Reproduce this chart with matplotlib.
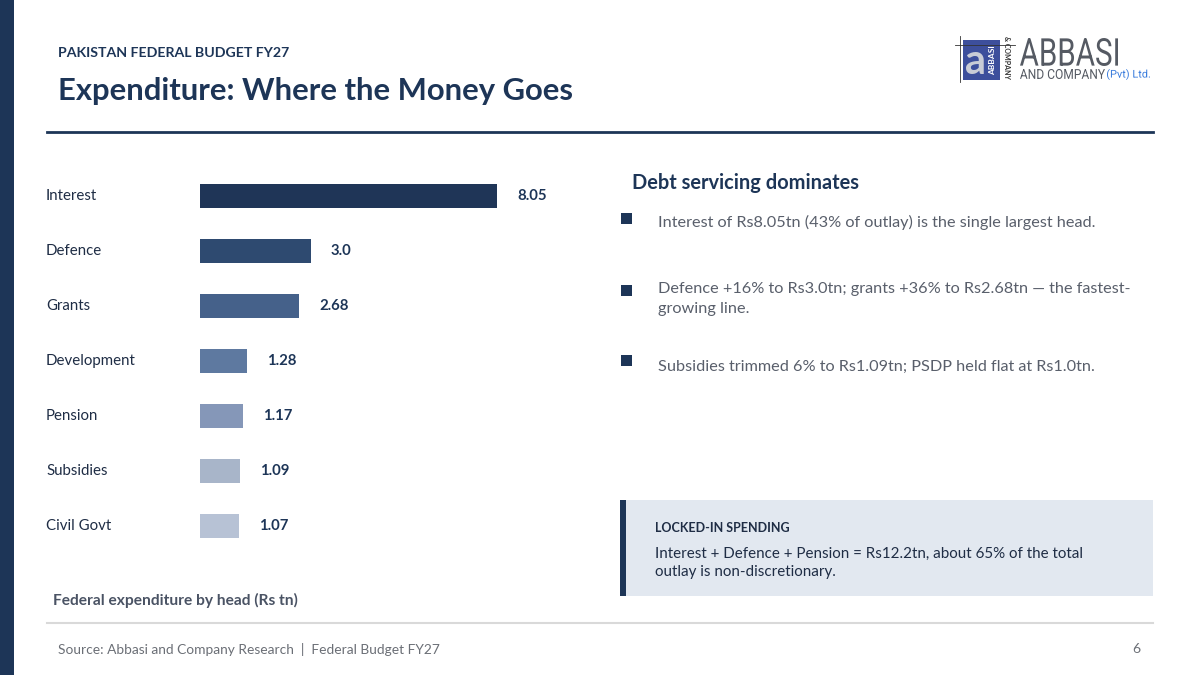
import matplotlib

matplotlib.use("Agg")
import matplotlib.pyplot as plt
from matplotlib.font_manager import FontProperties
from matplotlib.patches import PathPatch, Rectangle
from matplotlib.textpath import TextPath
from matplotlib.transforms import Affine2D, blended_transform_factory

plt.rcParams["font.family"] = ["Lato", "DejaVu Sans"]

# data
heads = ["Interest", "Defence", "Grants", "Development", "Pension", "Subsidies", "Civil Govt"]
values = [8.05, 3.0, 2.68, 1.28, 1.17, 1.09, 1.07]
value_labels = ["8.05", "3.0", "2.68", "1.28", "1.17", "1.09", "1.07"]
bar_colors = ["#1f3557", "#2e4a70", "#45618a", "#5e79a0", "#8597b8", "#a8b5c9", "#b7c2d5"]

bullets = [
    "Interest of Rs8.05tn (43% of outlay) is the single largest head.",
    "Defence +16% to Rs3.0tn; grants +36% to Rs2.68tn \u2014 the fastest-\ngrowing line.",
    "Subsidies trimmed 6% to Rs1.09tn; PSDP held flat at Rs1.0tn.",
]
bullet_y = [222, 299, 367]
marker_y = [218, 290, 360]

NAVY = "#1d3557"
W, H = 1200, 675


def fx(px):
    return px / W


def fy(py):
    return 1 - py / H


def fit_text(fig, s, x0, x1, ytop, ybot, color, family="Roboto", weight="normal"):
    # squeeze a text outline into a pixel box (used for the logo lettering)
    path = TextPath((0, 0), s, size=20, prop=FontProperties(family=family, weight=weight))
    bb = path.get_extents()
    sx = (x1 - x0) / bb.width
    sy = (ybot - ytop) / bb.height
    tr = Affine2D().translate(-bb.x0, -bb.y0).scale(sx, sy).translate(x0, H - ybot)
    fig.add_artist(PathPatch(path, transform=tr, facecolor=color, edgecolor="none"))


fig = plt.figure(figsize=(12, 6.75), dpi=100)
fig.patch.set_facecolor("white")

# left accent strip
fig.add_artist(Rectangle((0, 0), fx(14), 1, transform=fig.transFigure,
                         facecolor=NAVY, edgecolor="none"))

# header
fig.text(fx(58), fy(53), "PAKISTAN FEDERAL BUDGET FY27", fontsize=10.2,
         fontweight="bold", color=NAVY, va="center")
fig.text(fx(58), fy(91), "Expenditure: Where the Money Goes", fontsize=22.3,
         fontweight="bold", color=NAVY, va="center")
fig.add_artist(plt.Line2D([fx(47), fx(1153)], [fy(132), fy(132)],
                          transform=fig.transFigure, color=NAVY, lw=2))

# logo (approximate)
fig.add_artist(Rectangle((fx(963), fy(80)), fx(37), 40 / H, transform=fig.transFigure,
                         facecolor="#3d4f9c", edgecolor="none"))
fig.text(fx(975), fy(62), "a", fontsize=30, fontweight="bold", color="#c9ccd6",
         ha="center", va="center")
fig.text(fx(993), fy(60), "ABBASI", fontsize=6, fontweight="bold", color="white",
         rotation=90, ha="center", va="center")
fig.text(fx(1006), fy(58), "& COMPANY", fontsize=5, fontweight="bold", color="#333333",
         rotation=270, ha="center", va="center")
fig.add_artist(plt.Line2D([fx(955), fx(1015)], [fy(45), fy(45)],
                          transform=fig.transFigure, color="#333333", lw=0.6))
fig.add_artist(plt.Line2D([fx(960), fx(960)], [fy(36), fy(82)],
                          transform=fig.transFigure, color="#333333", lw=0.6))
fit_text(fig, "ABBASI", 1020, 1118, 38, 66, "#555a63")
fit_text(fig, "AND COMPANY", 1020, 1105, 69, 79, "#555a63")
fit_text(fig, "(Pvt) Ltd.", 1107, 1150, 69, 80, "#3b7ddd")

# bar chart
ax = fig.add_axes([fx(200), fy(553.5), fx(400), (553.5 - 168.5) / H])
ypos = list(range(len(heads)))
ax.barh(ypos, values, height=0.45, color=bar_colors, edgecolor="none")
ax.set_xlim(0, 400 / 36.9)
ax.set_ylim(len(heads) - 0.5, -0.5)
ax.axis("off")
for y, v, lab in zip(ypos, values, value_labels):
    ax.annotate(lab, (v, y), xytext=(20, 0), textcoords="offset pixels",
                va="center", ha="left", fontsize=10.7, fontweight="bold", color=NAVY)
trans = blended_transform_factory(fig.transFigure, ax.transData)
for y, name in zip(ypos, heads):
    ax.text(fx(46), y, name, transform=trans, va="center", ha="left",
            fontsize=10.8, color="#1f2d45")

fig.text(fx(53), fy(600), "Federal expenditure by head (Rs tn)", fontsize=11.2,
         fontweight="bold", color="#4a5364", va="center")

# right panel
fig.text(fx(632), fy(183), "Debt servicing dominates", fontsize=14.4,
         fontweight="bold", color=NAVY, va="center")
for y, my, txt in zip(bullet_y, marker_y, bullets):
    fig.add_artist(Rectangle((fx(621), fy(my + 5.5)), fx(11), 11 / H,
                             transform=fig.transFigure, facecolor=NAVY, edgecolor="none"))
    fig.text(fx(658), fy(y), txt, fontsize=11.7, color="#595f6b", va="center",
             linespacing=1.5)

# callout box
fig.add_artist(Rectangle((fx(620), fy(596)), fx(533), 96 / H, transform=fig.transFigure,
                         facecolor="#e2e8f0", edgecolor="none"))
fig.add_artist(Rectangle((fx(620), fy(596)), fx(6), 96 / H, transform=fig.transFigure,
                         facecolor=NAVY, edgecolor="none"))
fig.text(fx(655), fy(528), "LOCKED-IN SPENDING", fontsize=9, fontweight="bold",
         color="#1f2d45", va="center")
fig.text(fx(655), fy(563), "Interest + Defence + Pension = Rs12.2tn, about 65% of the total\n"
         "outlay is non-discretionary.", fontsize=10.9, color="#1f2d45", va="center",
         linespacing=1.45)

# footer
fig.add_artist(plt.Line2D([fx(47), fx(1153)], [fy(623), fy(623)],
                          transform=fig.transFigure, color="#d9d9d9", lw=1.5))
fig.text(fx(58), fy(649), "Source: Abbasi and Company Research  |  Federal Budget FY27",
         fontsize=9.9, color="#6b6f76", va="center")
fig.text(fx(1140), fy(649), "6", fontsize=10, color="#6b6f76", va="center", ha="right")

fig.savefig("out.png", dpi=100)
